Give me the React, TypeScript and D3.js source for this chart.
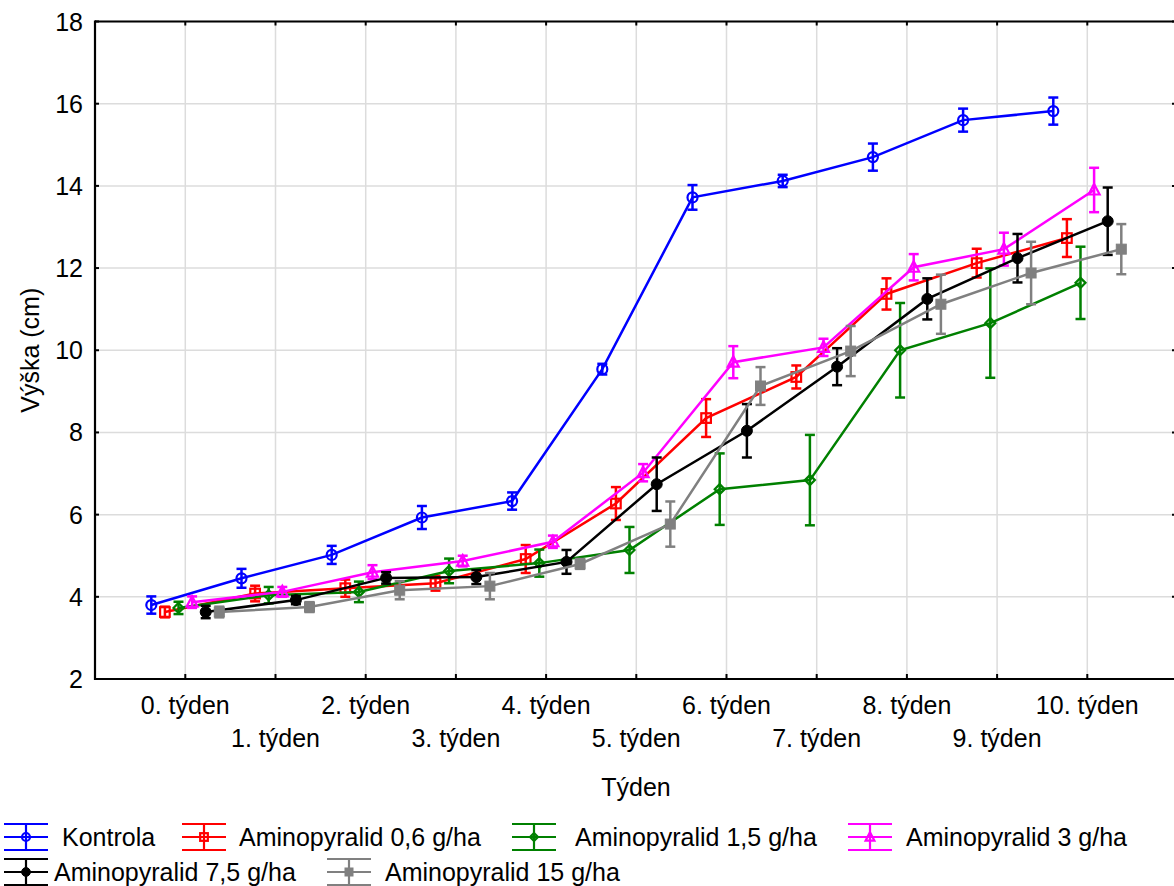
import React from "react";
import * as d3 from "d3";

const weeks = ["0. týden", "1. týden", "2. týden", "3. týden", "4. týden", "5. týden", "6. týden", "7. týden", "8. týden", "9. týden", "10. týden"];
const yTicks = [2, 4, 6, 8, 10, 12, 14, 16, 18];

const seriesNames = ["Kontrola", "Aminopyralid 0,6 g/ha", "Aminopyralid 1,5 g/ha", "Aminopyralid 3 g/ha", "Aminopyralid 7,5 g/ha", "Aminopyralid 15 g/ha"];
const seriesColors = ["#0000ff", "#ff0000", "#008000", "#ff00ff", "#000000", "#808080"];
const seriesMarkers = ["circle", "square", "diamond", "triangle", "dot", "fsquare"];

const kontrola = [3.8, 4.45, 5.02, 5.93, 6.33, 9.54, 13.72, 14.12, 14.7, 15.6, 15.82];
const kontrolaErr = [0.21, 0.23, 0.22, 0.28, 0.21, 0.13, 0.3, 0.15, 0.33, 0.28, 0.33];
const ap06 = [3.63, 4.08, 4.21, 4.33, 4.92, 6.27, 8.35, 9.35, 11.37, 12.12, 12.73];
const ap06Err = [0.13, 0.19, 0.21, 0.18, 0.34, 0.4, 0.46, 0.28, 0.38, 0.35, 0.46];
const ap15 = [3.73, 4.04, 4.12, 4.63, 4.82, 5.14, 6.62, 6.84, 10.0, 10.66, 11.64];
const ap15Err = [0.15, 0.2, 0.25, 0.3, 0.33, 0.56, 0.87, 1.1, 1.15, 1.33, 0.88];
const ap3 = [3.87, 4.12, 4.6, 4.87, 5.34, 7.02, 9.71, 10.07, 12.02, 12.46, 13.9];
const ap3Err = [0.14, 0.12, 0.17, 0.13, 0.15, 0.21, 0.39, 0.21, 0.32, 0.4, 0.54];
const ap75 = [3.63, 3.92, 4.46, 4.48, 4.85, 6.74, 8.04, 9.6, 11.25, 12.24, 13.14];
const ap75Err = [0.15, 0.1, 0.14, 0.17, 0.29, 0.65, 0.65, 0.45, 0.5, 0.59, 0.82];
const ap150 = [3.63, 3.75, 4.16, 4.26, 4.8, 5.77, 9.13, 9.98, 11.12, 11.88, 12.46];
const ap150Err = [0.13, 0.12, 0.22, 0.32, 0.12, 0.55, 0.46, 0.61, 0.72, 0.76, 0.61];

const seriesValues = [kontrola, ap06, ap15, ap3, ap75, ap150];
const seriesErrors = [kontrolaErr, ap06Err, ap15Err, ap3Err, ap75Err, ap150Err];

const W = 1174, H = 886;
const left = 95, right = 1177, top = 21.5, bottom = 679;
const FONT = "'Liberation Sans', Arial, sans-serif";

function Marker({ type, x, y, color, s = 1 }: { type: string; x: number; y: number; color: string; s?: number }) {
  const sw = 2.2;
  switch (type) {
    case "circle":
      return <circle cx={x} cy={y} r={5 * s} fill="none" stroke={color} strokeWidth={sw} />;
    case "square":
      return <rect x={x - 4.8 * s} y={y - 4.8 * s} width={9.6 * s} height={9.6 * s} fill="none" stroke={color} strokeWidth={sw} />;
    case "diamond":
      return <path d={`M${x},${y - 5 * s}L${x + 5 * s},${y}L${x},${y + 5 * s}L${x - 5 * s},${y}Z`} fill="none" stroke={color} strokeWidth={sw} />;
    case "triangle":
      return <path d={`M${x},${y - 6 * s}L${x + 5.5 * s},${y + 4.5 * s}L${x - 5.5 * s},${y + 4.5 * s}Z`} fill="none" stroke={color} strokeWidth={sw} />;
    case "dot":
      return <circle cx={x} cy={y} r={5.5 * s} fill={color} stroke={color} strokeWidth={1} />;
    case "fsquare":
      return <rect x={x - 5 * s} y={y - 5 * s} width={10 * s} height={10 * s} fill={color} stroke={color} strokeWidth={1} />;
  }
  return null;
}

export default function App() {
  const xCat = d3.scalePoint<string>().domain(weeks).range([185.3, 1087.3]);
  const xOff = d3.scalePoint<string>().domain(seriesNames).range([-34, 34]);
  const y = d3.scaleLinear().domain([2, 18]).range([bottom, top]);

  const line = d3.line<[number, number]>().x((d) => d[0]).y((d) => d[1]);

  const legendPos = [
    { sx: 4, tx: 62, row: 0 },
    { sx: 182, tx: 239, row: 0 },
    { sx: 512, tx: 575, row: 0 },
    { sx: 848, tx: 906, row: 0 },
    { sx: 4, tx: 54, row: 1 },
    { sx: 327, tx: 385, row: 1 },
  ];
  const rowY = [837, 872];

  return (
    <svg width={W} height={H} style={{ position: "absolute", left: 0, top: 0, background: "#fff" }} fontFamily={FONT}>
      <rect x={0} y={0} width={W} height={H} fill="#fff" />
      {yTicks.map((t) => (
        <line key={"gy" + t} x1={left} x2={right} y1={y(t)} y2={y(t)} stroke="#dcdcdc" strokeWidth={1.5} />
      ))}
      {weeks.map((w) => (
        <line key={"gx" + w} x1={xCat(w)} x2={xCat(w)} y1={top} y2={bottom} stroke="#dcdcdc" strokeWidth={1.5} />
      ))}
      {seriesNames.map((name, si) => {
        const color = seriesColors[si];
        const pts: [number, number][] = weeks.map((w, i) => [(xCat(w) as number) + (xOff(name) as number), y(seriesValues[si][i])]);
        return (
          <g key={name}>
            <path d={line(pts) || ""} fill="none" stroke={color} strokeWidth={2.5} />
            {weeks.map((w, i) => {
              const cx = pts[i][0];
              const v = seriesValues[si][i];
              const e = seriesErrors[si][i];
              const y1 = y(v + e), y2 = y(v - e);
              return (
                <g key={w}>
                  <line x1={cx} x2={cx} y1={y1} y2={y2} stroke={color} strokeWidth={2.5} />
                  <line x1={cx - 5} x2={cx + 5} y1={y1} y2={y1} stroke={color} strokeWidth={2.5} />
                  <line x1={cx - 5} x2={cx + 5} y1={y2} y2={y2} stroke={color} strokeWidth={2.5} />
                  <Marker type={seriesMarkers[si]} x={cx} y={pts[i][1]} color={color} />
                </g>
              );
            })}
          </g>
        );
      })}
      <line x1={left} x2={right} y1={top} y2={top} stroke="#000" strokeWidth={2.2} />
      <line x1={left} x2={right} y1={bottom} y2={bottom} stroke="#000" strokeWidth={2.2} />
      <line x1={left} x2={left} y1={top - 1} y2={bottom + 1} stroke="#000" strokeWidth={2.2} />
      <line x1={right} x2={right} y1={top - 1} y2={bottom + 1} stroke="#000" strokeWidth={2.2} />
      {yTicks.map((t) => (
        <g key={"yt" + t}>
          <line x1={left} x2={left + 4} y1={y(t)} y2={y(t)} stroke="#000" strokeWidth={2} />
          <line x1={right - 5} x2={right} y1={y(t)} y2={y(t)} stroke="#000" strokeWidth={2} />
          <text x={83} y={y(t)} dy="0.36em" textAnchor="end" fontSize={25} fill="#000">{t}</text>
        </g>
      ))}
      {weeks.map((w, i) => (
        <g key={"xt" + w}>
          <line x1={xCat(w)} x2={xCat(w)} y1={bottom} y2={bottom - 5} stroke="#000" strokeWidth={2} />
          <line x1={xCat(w)} x2={xCat(w)} y1={top} y2={top + 4} stroke="#000" strokeWidth={2} />
          <text x={xCat(w)} y={i % 2 === 0 ? 714 : 747} textAnchor="middle" fontSize={25} fill="#000">{w}</text>
        </g>
      ))}
      <text x={(left + right) / 2} y={796} textAnchor="middle" fontSize={25} fill="#000">Týden</text>
      <text transform={`translate(39,${(top + bottom) / 2}) rotate(-90)`} textAnchor="middle" fontSize={25} fill="#000">Výška (cm)</text>
      {seriesNames.map((name, si) => {
        const p = legendPos[si];
        const cy = rowY[p.row];
        const color = seriesColors[si];
        const mx = p.sx + 22;
        return (
          <g key={"lg" + name}>
            <line x1={p.sx} x2={p.sx + 44} y1={cy - 13} y2={cy - 13} stroke={color} strokeWidth={2.2} />
            <line x1={p.sx} x2={p.sx + 44} y1={cy} y2={cy} stroke={color} strokeWidth={2.2} />
            <line x1={p.sx} x2={p.sx + 44} y1={cy + 13} y2={cy + 13} stroke={color} strokeWidth={2.2} />
            <line x1={mx} x2={mx} y1={cy - 13} y2={cy + 13} stroke={color} strokeWidth={2.2} />
            <Marker type={seriesMarkers[si]} x={mx} y={cy} color={color} s={0.8} />
            <text x={p.tx} y={cy} dy="0.36em" fontSize={25} fill="#000">{name}</text>
          </g>
        );
      })}
    </svg>
  );
}
